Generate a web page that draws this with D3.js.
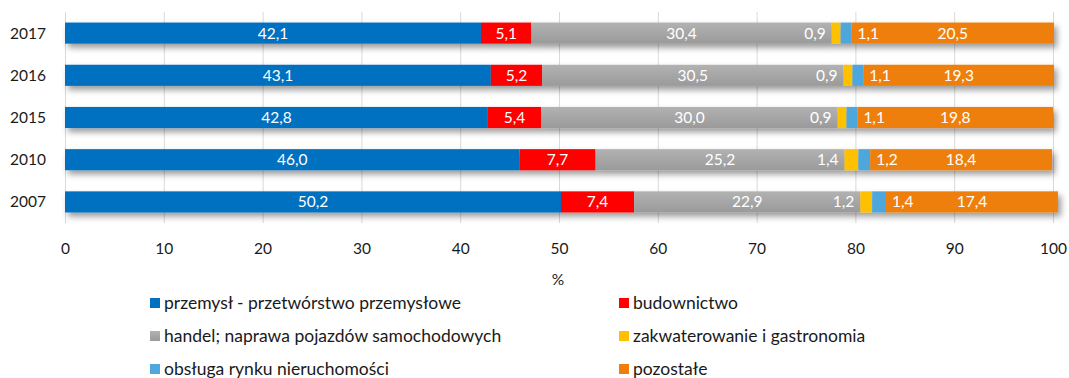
<!DOCTYPE html>
<html>
<head>
<meta charset="utf-8">
<script src="https://cdn.jsdelivr.net/npm/d3@7"></script>
<style>
  html, body { margin: 0; padding: 0; background: #fff; }
  svg { display: block; font-family: Lato, "Open Sans", sans-serif; }
</style>
</head>
<body>
<svg id="chart" width="1069" height="378"></svg>
<script>
// Struktura według sekcji (%), kolejne lata
const years = ["2017", "2016", "2015", "2010", "2007"];
const sectors = [
  "przemysł - przetwórstwo przemysłowe",
  "budownictwo",
  "handel; naprawa pojazdów samochodowych",
  "zakwaterowanie i gastronomia",
  "obsługa rynku nieruchomości",
  "pozostałe"
];
const przemysl       = [42.1, 43.1, 42.8, 46.0, 50.2];
const budownictwo    = [5.1, 5.2, 5.4, 7.7, 7.4];
const handel         = [30.4, 30.5, 30.0, 25.2, 22.9];
const zakwaterowanie = [0.9, 0.9, 0.9, 1.4, 1.2];
const nieruchomosci  = [1.1, 1.1, 1.1, 1.2, 1.4];
const pozostale      = [20.5, 19.3, 19.8, 18.4, 17.4];
const xTicks = [0, 10, 20, 30, 40, 50, 60, 70, 80, 90, 100];

const seriesValues = [przemysl, budownictwo, handel, zakwaterowanie, nieruchomosci, pozostale];
const colors = ["#0070c0", "#ff0000", "url(#grayGrad)", "#ffc000", "#4ea7dd", "#ef7f0a"];

const svg = d3.select("#chart");
const FS = 15.5;      // numbers and axis labels
const FS_LEG = 17.5;  // legend entries
const textColor = "#1a1a1a";

const x = d3.scaleLinear().domain([0, 100]).range([65, 1053]);
const y = d3.scaleBand().domain(years).range([12, 223]).paddingInner(0.5).paddingOuter(0.25);

const defs = svg.append("defs");
const grad = defs.append("linearGradient").attr("id", "grayGrad")
  .attr("x1", 0).attr("y1", 0).attr("x2", 0).attr("y2", 1);
grad.append("stop").attr("offset", "0%").attr("stop-color", "#b2b2b2");
grad.append("stop").attr("offset", "100%").attr("stop-color", "#9a9a9a");

const shadow = defs.append("filter").attr("id", "shadow")
  .attr("x", "-5%").attr("y", "-50%").attr("width", "110%").attr("height", "240%");
shadow.append("feDropShadow").attr("dx", 3).attr("dy", 4).attr("stdDeviation", 3)
  .attr("flood-color", "#000").attr("flood-opacity", 0.4);

// gridlines
svg.append("g").selectAll("line").data(xTicks).join("line")
  .attr("x1", d => x(d) + 0.5).attr("x2", d => x(d) + 0.5)
  .attr("y1", 12).attr("y2", 223)
  .attr("stroke", "#d9d9d9").attr("stroke-width", 1);

// stacked rows
const rows = years.map((yr, i) => {
  let acc = 0;
  return seriesValues.map((vals, s) => {
    const v = vals[i];
    const seg = { year: yr, s, v, x0: acc, x1: acc + v };
    acc += v;
    return seg;
  });
});

const rowG = svg.append("g").selectAll("g").data(rows).join("g")
  .attr("filter", "url(#shadow)");
rowG.selectAll("rect").data(d => d).join("rect")
  .attr("x", d => x(d.x0))
  .attr("width", d => x(d.x1) - x(d.x0))
  .attr("y", d => y(d.year))
  .attr("height", y.bandwidth())
  .attr("fill", d => colors[d.s]);

// value labels (small sectors labelled beside their segment)
const fmt = v => v.toFixed(1).replace(".", ",");
const labels = svg.append("g").selectAll("g").data(rows).join("g");
labels.selectAll("text").data(d => d).join("text")
  .attr("x", d => {
    if (d.s === 3) return x(d.x0) - 6;
    if (d.s === 4) return x(d.x1) + 6;
    return (x(d.x0) + x(d.x1)) / 2;
  })
  .attr("y", d => y(d.year) + y.bandwidth() / 2)
  .attr("dy", "0.36em")
  .attr("text-anchor", d => d.s === 3 ? "end" : d.s === 4 ? "start" : "middle")
  .attr("fill", "#fff")
  .attr("font-size", FS)
  .text(d => fmt(d.v));

// category axis labels
svg.append("g").selectAll("text").data(years).join("text")
  .attr("x", 46)
  .attr("y", d => y(d) + y.bandwidth() / 2)
  .attr("dy", "0.36em")
  .attr("text-anchor", "end")
  .attr("fill", textColor)
  .attr("font-size", FS)
  .text(d => d);

// value axis
const xAxis = d3.axisBottom(x).tickValues(xTicks).tickSize(0).tickPadding(0).tickFormat(d3.format("d"));
const axG = svg.append("g").attr("transform", "translate(0,243)").call(xAxis);
axG.select(".domain").remove();
axG.selectAll("text").attr("font-size", FS).attr("fill", textColor)
  .attr("font-family", "Lato, 'Open Sans', sans-serif");

svg.append("text").attr("x", 558).attr("y", 279).attr("dy", "0.36em")
  .attr("text-anchor", "middle").attr("font-size", FS).attr("fill", textColor).text("%");

// legend: two columns, three rows
const legendCols = [150, 619];
const legendRows = [303, 336, 369];
const leg = svg.append("g").selectAll("g").data(sectors).join("g")
  .attr("transform", (d, i) => `translate(${legendCols[i % 2]},${legendRows[Math.floor(i / 2)]})`);
leg.append("rect").attr("x", 0).attr("y", -5).attr("width", 10).attr("height", 10)
  .attr("fill", (d, i) => colors[i]);
leg.append("text").attr("x", 14).attr("y", 0).attr("dy", "0.36em")
  .attr("font-size", FS_LEG).attr("fill", textColor).text(d => d);
</script>
</body>
</html>
